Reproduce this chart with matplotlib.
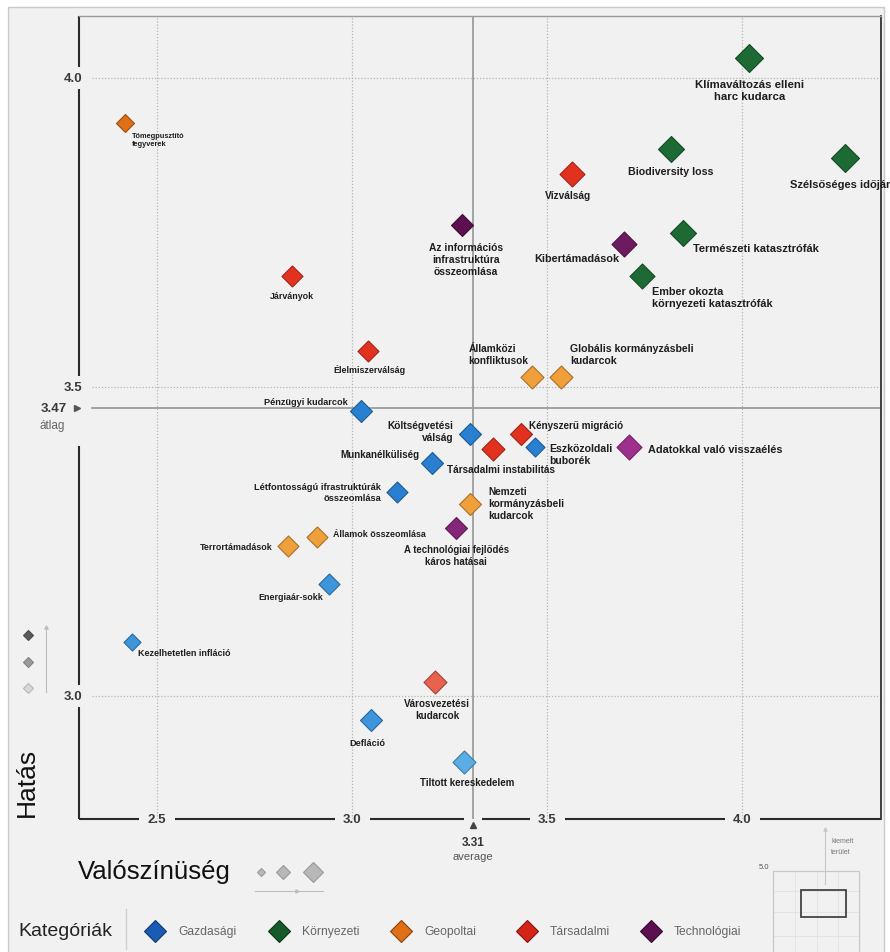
import matplotlib
matplotlib.use("Agg")
import matplotlib.pyplot as plt
from matplotlib.lines import Line2D
from matplotlib.patches import Rectangle
from matplotlib.transforms import blended_transform_factory
import matplotlib.colors as mcolors

plt.rcParams['font.family'] = ['Liberation Sans', 'DejaVu Sans']

# --- adatok ---
kockazatok = [
    "Tömegpusztító\nfegyverek", "Járványok", "Élelmiszerválság", "Pénzügyi kudarcok",
    "Az információs\ninfrastruktúra\nösszeomlása", "Vízválság", "Biodiversity loss",
    "Klímaváltozás elleni\nharc kudarca", "Szélsőséges időjárás", "Természeti katasztrófák",
    "Kibertámadások", "Ember okozta\nkörnyezeti katasztrófák", "Államközi\nkonfliktusok",
    "Globális kormányzásbeli\nkudarcok", "Költségvetési\nválság", "Társadalmi instabilitás",
    "Kényszerű migráció", "Eszközoldali\nbuborék", "Adatokkal való visszaélés",
    "Munkanélküliség", "Létfontosságú ifrastruktúrák\nösszeomlása",
    "Nemzeti\nkormányzásbeli\nkudarcok", "A technológiai fejlődés\nkáros hatásai",
    "Államok összeomlása", "Terrortámadások", "Energiaár-sokk", "Kezelhetetlen infláció",
    "Városvezetési\nkudarcok", "Defláció", "Tiltott kereskedelem",
]
kategoria = [
    "Geopoltai", "Társadalmi", "Társadalmi", "Gazdasági",
    "Technológiai", "Társadalmi", "Környezeti",
    "Környezeti", "Környezeti", "Környezeti",
    "Technológiai", "Környezeti", "Geopoltai",
    "Geopoltai", "Gazdasági", "Társadalmi",
    "Társadalmi", "Gazdasági", "Technológiai",
    "Gazdasági", "Gazdasági",
    "Geopoltai", "Technológiai",
    "Geopoltai", "Geopoltai", "Gazdasági", "Gazdasági",
    "Társadalmi", "Gazdasági", "Gazdasági",
]
valoszinuseg = [
    2.418, 2.846, 3.041, 3.023,
    3.282, 3.564, 3.818,
    4.018, 4.264, 3.849,
    3.697, 3.744, 3.462,
    3.536, 3.303, 3.362,
    3.433, 3.469, 3.710,
    3.205, 3.115,
    3.303, 3.267,
    2.910, 2.836, 2.941, 2.436,
    3.213, 3.049, 3.287,
]
hatas = [
    3.927, 3.679, 3.559, 3.461,
    3.763, 3.844, 3.885,
    4.032, 3.870, 3.750,
    3.731, 3.679, 3.516,
    3.516, 3.424, 3.400,
    3.424, 3.403, 3.403,
    3.377, 3.330,
    3.310, 3.271,
    3.257, 3.242, 3.181, 3.087,
    3.023, 2.961, 2.893,
]
# a rombusz nagysága (a változás üteme) és árnyalata
utem = [
    18, 21, 21, 22,
    22, 25, 26,
    28, 28, 26,
    25, 25, 23,
    23, 22, 23,
    22, 19, 25,
    22, 21,
    22, 22,
    21, 21, 21, 17,
    23, 22, 23,
]
arnyalat = [
    0, 1, 1, 1,
    0, 1, 1,
    1, 1, 1,
    1, 1, 2,
    2, 1, 1,
    1, 1, 3,
    1, 1,
    2, 2,
    2, 2, 2, 2,
    3, 2, 3,
]
kategoriak = ["Gazdasági", "Környezeti", "Geopoltai", "Társadalmi", "Technológiai"]
atlag_valoszinuseg = 3.31
atlag_hatas = 3.466
x_tickek = [2.5, 3.0, 3.5, 4.0]
y_tickek = [3.0, 3.5, 4.0]

# --- stílus ---
PALETTA = {
    "Gazdasági":    ['#1a5cb5', '#2a80d0', '#3d95dc', '#5aaee5'],
    "Környezeti":   ['#175a2a', '#1e6a34', '#2a7a40', '#3a8a50'],
    "Geopoltai":    ['#e07018', '#ec8a28', '#f0a03a', '#f3b258'],
    "Társadalmi":   ['#d42418', '#e2321f', '#e44a35', '#e8624f'],
    "Technológiai": ['#5c1050', '#6e1a60', '#862678', '#a0308e'],
}
# címke elhelyezés: (dx, dy lefelé, igazítás, betűméret) képpontban
CIMKE = [
    (7, 16, 'left', 5.3), (0, 19, 'center', 6.4), (1, 18, 'center', 6.4),
    (-13, -10, 'right', 6.6),
    (4, 34, 'center', 7.4), (-4, 21, 'center', 7.3), (0, 22, 'center', 7.7),
    (0, 32, 'center', 8.2), (-55, 26, 'left', 8.0), (10, 15, 'left', 8.0),
    (-5, 14, 'right', 7.8), (10, 21, 'left', 7.8), (-64, -23, 'left', 7.3),
    (9, -23, 'left', 7.6), (-17, -3, 'right', 7.3), (8, 20, 'center', 7.2),
    (8, -9, 'left', 7.1), (14, 7, 'left', 7.6), (19, 2, 'left', 7.8),
    (-13, -9, 'right', 7.0), (-16, 0, 'right', 6.7),
    (18, -1, 'left', 7.3), (0, 27, 'center', 6.9),
    (16, -4, 'left', 6.4), (-15, 0, 'right', 6.4), (-6, 12, 'right', 6.4),
    (6, 10, 'left', 6.5),
    (2, 27, 'center', 7.1), (-4, 23, 'center', 6.6), (3, 20, 'center', 7.0),
]
BG = '#f1f1f1'
W, H = 890, 953


def darker(c, f=0.7):
    r, g, b = mcolors.to_rgb(c)
    return (r * f, g * f, b * f)


def fxy(x, y):
    return x / W, 1 - y / H


def fmark(x, y, marker, ms, color, ec=None):
    fig.add_artist(Line2D([x / W], [1 - y / H], marker=marker, ms=ms, color=color,
                          mec=ec if ec else color, mew=0.8, ls='none',
                          transform=fig.transFigure))


def fline(xs, ys, color, lw=0.8):
    fig.add_artist(Line2D([x / W for x in xs], [1 - y / H for y in ys], color=color,
                          lw=lw, transform=fig.transFigure))


fig = plt.figure(figsize=(W / 100, H / 100), dpi=100, facecolor='white')
fig.add_artist(Rectangle((8 / W, -0.01), (884 - 8) / W, (H - 8) / H + 0.01,
                         transform=fig.transFigure, fc=BG, ec='#c9c9c9', lw=1, zorder=-10))

ax = fig.add_axes([79 / W, 1 - 820 / H, (881 - 79) / W, (820 - 17) / H])
ax.set_facecolor('none')
ax.set_xlim(2.300, 4.356)
ax.set_ylim(2.8007, 4.1005)
ax.set_xticks([])
ax.set_yticks([])
ax.spines['left'].set_visible(False)
ax.spines['bottom'].set_visible(False)
ax.spines['top'].set_color('#9a9a9a')
ax.spines['top'].set_linewidth(1.0)
ax.spines['right'].set_color('#333333')
ax.spines['right'].set_linewidth(1.3)

x0, x1 = ax.get_xlim()
y0, y1 = ax.get_ylim()
tr_y = blended_transform_factory(ax.transAxes, ax.transData)
tr_x = blended_transform_factory(ax.transData, ax.transAxes)

# rács
for v in x_tickek:
    ax.axvline(v, color='#b5b5b5', lw=0.9, ls=(0, (1, 1.5)), zorder=1)
for v in y_tickek:
    ax.axhline(v, xmin=0.016, color='#b5b5b5', lw=0.9, ls=(0, (1, 1.5)), zorder=1)

# átlag vonalak
ax.axvline(atlag_valoszinuseg, color='#9c9c9c', lw=1.3, zorder=1.5)
ax.plot([x0 + 0.033, x1], [atlag_hatas] * 2, color='#9c9c9c', lw=1.3, zorder=1.5)

# bal tengely szakaszokkal
yg = 0.018
szak = [(y1, 4.0 + yg), (4.0 - yg, 3.5 + 0.017), (atlag_hatas - 0.062, 3.0 + yg), (3.0 - yg, y0)]
for a, b in szak:
    ax.plot([0, 0], [a, b], color='#2a2a2a', lw=1.5, transform=tr_y, clip_on=False,
            solid_capstyle='butt')
# alsó tengely szakaszokkal
res = sorted([(v, 0.045) for v in x_tickek] + [(atlag_valoszinuseg, 0.022)])
start = x0
for v, g in res:
    ax.plot([start, v - g], [0, 0], color='#2a2a2a', lw=1.5, transform=tr_x,
            clip_on=False, solid_capstyle='butt')
    start = v + g
ax.plot([start, x1], [0, 0], color='#2a2a2a', lw=1.5, transform=tr_x, clip_on=False,
        solid_capstyle='butt')

for v in y_tickek:
    ax.annotate(f"{v:.1f}", (0, v), xycoords=tr_y, xytext=(3, 0), textcoords='offset pixels',
                ha='right', va='center', fontsize=9.5, fontweight='bold', color='#3a3a3a')
for v in x_tickek:
    ax.annotate(f"{v:.1f}", (v, 0), xycoords=tr_x, ha='center', va='center',
                fontsize=9.5, fontweight='bold', color='#3a3a3a')

# átlag jelölések
ax.annotate(f"{atlag_hatas:.2f}", (0, atlag_hatas), xycoords=tr_y, xytext=(-12, 0),
            textcoords='offset pixels', ha='right', va='center', fontsize=9.5,
            fontweight='bold', color='#3a3a3a')
ax.plot([-0.002], [atlag_hatas], marker='>', ms=4, color='#555555', transform=tr_y,
        clip_on=False)
ax.annotate("átlag", (0, atlag_hatas), xycoords=tr_y, xytext=(-27, -17),
            textcoords='offset pixels', ha='center', va='center', fontsize=8.5, color='#666666')
ax.plot([atlag_valoszinuseg], [-0.008], marker='^', ms=4, color='#444444', transform=tr_x,
        clip_on=False)
ax.annotate(f"{atlag_valoszinuseg:.2f}", (atlag_valoszinuseg, 0), xycoords=tr_x,
            xytext=(0, -23), textcoords='offset pixels', ha='center', va='center',
            fontsize=8.5, fontweight='bold', color='#333333')
ax.annotate("average", (atlag_valoszinuseg, 0), xycoords=tr_x, xytext=(0, -37),
            textcoords='offset pixels', ha='center', va='center', fontsize=8, color='#555555')

# pontok
for i, nev in enumerate(kockazatok):
    szin = PALETTA[kategoria[i]][arnyalat[i]]
    ms = utem[i] / 1.964
    ax.scatter(valoszinuseg[i], hatas[i], s=ms ** 2, marker='D', color=szin,
               edgecolors=[darker(szin)], linewidths=0.8, zorder=3)
    dx, dy, ha, fs = CIMKE[i]
    ax.annotate(nev, (valoszinuseg[i], hatas[i]), xytext=(dx, -dy), textcoords='offset pixels',
                ha=ha, va='center', multialignment=ha, fontsize=fs,
                fontweight='bold', color='#1e1e1e', linespacing=1.25, zorder=4,
                annotation_clip=False)

# feliratok
fig.text(*fxy(27, 782), "Hatás", rotation=90, fontsize=19, ha='center', va='center',
         color='#111111')
for y, c in [(636, '#5a5a5a'), (663, '#9a9a9a'), (689, '#d8d8d8')]:
    fmark(28, y, 'D', 5.5, c, darker(c, 0.85))
fline([46, 46], [629, 693], '#bdbdbd')
fmark(46, 628, '^', 2.5, '#bdbdbd')

fig.text(*fxy(78, 872), "Valószínüség", fontsize=18.5, ha='left', va='center', color='#111111')
for x, d in [(261, 8), (283, 13), (313, 20)]:
    fmark(x, 873, 'D', d / 1.964, '#b8b8b8', '#9a9a9a')
fline([255, 323], [892, 892], '#bdbdbd')
fmark(297, 892, '>', 2.5, '#bdbdbd')

fig.text(*fxy(18, 932), "Kategóriák", fontsize=14, ha='left', va='center', color='#222222')
fline([126, 126], [910, 950], '#cfcfcf', 1.0)
LEG_X = [155, 279, 401, 527, 651]
for k, x in zip(kategoriak, LEG_X):
    c = PALETTA[k][0]
    fmark(x, 932, 'D', 22 / 1.964, c, darker(c, 0.6))
    fig.text(*fxy(x + 23, 932), k, fontsize=8.7, ha='left', va='center', color='#666666')

# kiemelt terület kis ábra
for x in [795, 817, 838]:
    fline([x, x], [872, 953], '#e2e2e2', 0.6)
for y in [892, 913, 937]:
    fline([773, 859], [y, y], '#e2e2e2', 0.6)
fline([773, 773, 859, 859], [953, 872, 872, 953], '#c8c8c8', 0.9)
fig.add_artist(Rectangle((801 / W, 1 - 918 / H), 45 / W, 27 / H, transform=fig.transFigure,
                         fc='none', ec='#444444', lw=1.3, zorder=5))
fline([825, 825], [831, 885], '#c8c8c8')
fmark(825, 830, '^', 2.5, '#c8c8c8')
fig.text(*fxy(831, 842), "kiemelt", fontsize=5, ha='left', va='center', color='#777777')
fig.text(*fxy(831, 853), "terület", fontsize=5, ha='left', va='center', color='#777777')
fig.text(*fxy(764, 868), "5.0", fontsize=5.5, ha='center', va='center', color='#555555')

fig.savefig("out.png", dpi=100, facecolor='white')
